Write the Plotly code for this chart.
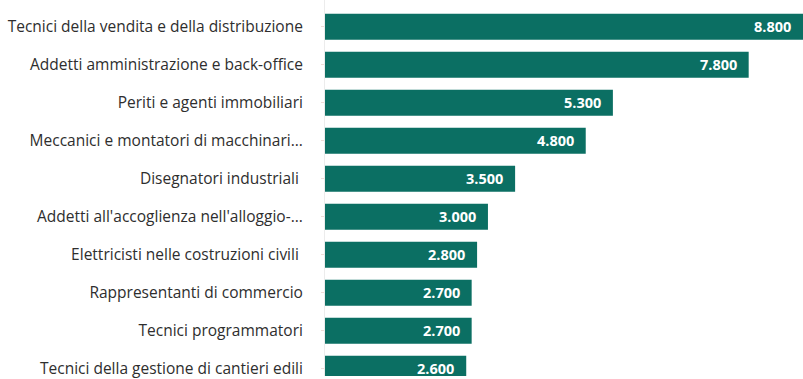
import plotly.graph_objects as go

# Professioni e numero di entrate previste
professioni = [
    "Tecnici della vendita e della distribuzione",
    "Addetti amministrazione e back-office",
    "Periti e agenti immobiliari",
    "Meccanici e montatori di macchinari...",
    "Disegnatori industriali ",
    "Addetti all'accoglienza nell'alloggio-...",
    "Elettricisti nelle costruzioni civili ",
    "Rappresentanti di commercio",
    "Tecnici programmatori",
    "Tecnici della gestione di cantieri edili",
]
entrate = [8800, 7800, 5300, 4800, 3500, 3000, 2800, 2700, 2700, 2600]

BAR_COLOR = "#0b6f63"

fig = go.Figure(
    go.Bar(
        x=entrate,
        y=professioni,
        orientation="h",
        marker=dict(color=BAR_COLOR, line=dict(width=0)),
        hoverinfo="skip",
    )
)

# Etichette dei valori, all'interno dell'estremità delle barre
for nome, val in zip(professioni, entrate):
    fig.add_annotation(
        x=val,
        y=nome,
        text=f"{val:,}".replace(",", "."),
        showarrow=False,
        xanchor="right",
        yanchor="middle",
        xshift=-10,
        font=dict(family="Open Sans", size=14.5, color="white", weight="bold"),
    )

fig.update_layout(
    width=803,
    height=379,
    margin=dict(l=325, r=0, t=0, b=0),
    paper_bgcolor="white",
    plot_bgcolor="white",
    bargap=0.32,
    showlegend=False,
    xaxis=dict(
        range=[0, 8800],
        visible=False,
        fixedrange=True,
    ),
    yaxis=dict(
        type="category",
        range=[9.19, -0.705],
        showgrid=False,
        zeroline=False,
        showline=True,
        linecolor="#ececec",
        linewidth=1,
        ticks="outside",
        ticklen=3,
        tickcolor="#f0dcd8",
        ticklabelstandoff=15,
        tickfont=dict(family="Open Sans", size=15.5, color="#2e2e2e"),
        fixedrange=True,
    ),
)

fig.write_html("out.html")
